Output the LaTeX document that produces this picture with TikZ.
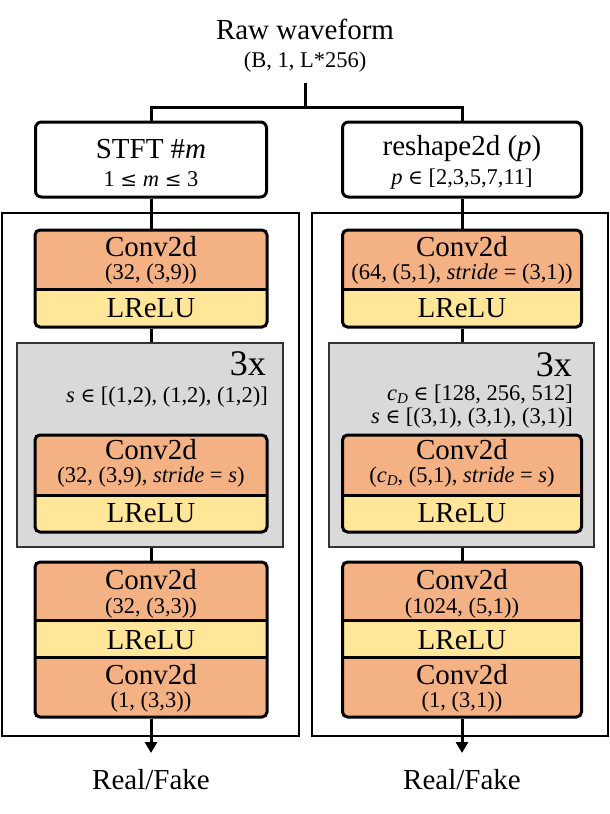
\documentclass[tikz,border=0pt]{standalone}
\usepackage{fontspec}
\setmainfont{Liberation Serif}
\newfontfamily\symf{DejaVu Serif}
\usetikzlibrary{arrows.meta}
\definecolor{convc}{HTML}{F4B183}
\definecolor{reluc}{HTML}{FFE699}
\definecolor{grayc}{HTML}{D9D9D9}
\newcommand{\bigf}{\fontsize{29}{33}\selectfont}
\newcommand{\subf}{\fontsize{22.5}{26}\selectfont}
\newcommand{\threef}{\fontsize{36}{40}\selectfont}
\newcommand{\vle}{{\symf\fontsize{20}{24}\selectfont ≤}}
\newcommand{\vin}{{\symf\fontsize{20}{24}\selectfont ∈}}
\newcommand{\cD}{\textit{c}\raisebox{-3.5pt}{\fontsize{15}{16}\selectfont\textit{D}}}
\tikzset{
  conn/.style={line width=3pt},
  topbox/.style={draw, line width=3pt, rounded corners=6pt, fill=white, inner sep=0pt},
  container/.style={draw, line width=1.5pt, fill=white, inner sep=0pt},
  repbox/.style={draw=black!80, line width=1.3pt, fill=grayc, inner sep=0pt},
  lbl/.style={inner sep=0pt, font=\bigf},
  sublbl/.style={inner sep=0pt, font=\subf},
  threelbl/.style={inner sep=0pt, font=\threef},
  pairframe/.style={draw, line width=3pt, rounded corners=5pt, fill=convc, inner sep=0pt,
    path picture={
      \fill[reluc, sharp corners] (path picture bounding box.south west) rectangle ([yshift=#1]path picture bounding box.south east);
      \draw[line width=3pt, sharp corners] ([yshift=#1]path picture bounding box.south west) -- ([yshift=#1]path picture bounding box.south east);
    }},
  tripleframe/.style={draw, line width=3pt, rounded corners=5pt, fill=convc, inner sep=0pt,
    path picture={
      \fill[reluc, sharp corners] ([yshift=60pt]path picture bounding box.south west) rectangle ([yshift=97pt]path picture bounding box.south east);
      \draw[line width=3pt, sharp corners] ([yshift=60pt]path picture bounding box.south west) -- ([yshift=60pt]path picture bounding box.south east);
      \draw[line width=3pt, sharp corners] ([yshift=97pt]path picture bounding box.south west) -- ([yshift=97pt]path picture bounding box.south east);
    }},
  tip/.style={-{Triangle[length=11pt,width=12pt]}}
}
\begin{document}
\begin{tikzpicture}[x=1pt,y=-1pt]
\useasboundingbox[fill=white] (0,0) rectangle (610,814);
% containers
\node[container, minimum width=297pt, minimum height=523pt] (lcont) at (150.5,474.5) {};
\node[container, minimum width=296pt, minimum height=523pt] (rcont) at (460,474.5) {};
% top boxes
\node[topbox, minimum width=231pt, minimum height=75pt] (stft) at (151,159.5) {};
\node[topbox, minimum width=239pt, minimum height=75pt] (rsh) at (462,159.5) {};
% left column
\node[pairframe=38pt, minimum width=232pt, minimum height=97pt] (lf1) at (151,278.5) {};
\node[repbox, minimum width=266pt, minimum height=204pt] (lrep) at (150,445) {};
\node[pairframe=37pt, minimum width=232pt, minimum height=97pt] (lf2) at (151,483.5) {};
\node[tripleframe, minimum width=232pt, minimum height=155pt] (lf3) at (151,639.5) {};
% right column
\node[pairframe=38pt, minimum width=239pt, minimum height=97pt] (rf1) at (462,278.5) {};
\node[repbox, minimum width=265pt, minimum height=204pt] (rrep) at (461.5,445) {};
\node[pairframe=37pt, minimum width=239pt, minimum height=97pt] (rf2) at (462,483.5) {};
\node[tripleframe, minimum width=239pt, minimum height=155pt] (rf3) at (462,639.5) {};
% connectors
\coordinate (rawend) at (305,83);
\coordinate (split) at (305,107);
\coordinate (lend) at (151,753);
\coordinate (rend) at (462,753);
\draw[conn] (rawend) -- (split);
\draw[conn] (stft.north) -- (stft.north |- split) -- (rsh.north |- split) -- (rsh.north);
\draw[conn] (stft.south) -- (lf1.north);
\draw[conn] (lf1.south) -- (lf1.south |- lrep.north);
\draw[conn] (lf1.south |- lrep.south) -- (lf3.north);
\draw[conn, tip] (lf3.south) -- (lend);
\draw[conn] (rsh.south) -- (rf1.north);
\draw[conn] (rf1.south) -- (rf1.south |- rrep.north);
\draw[conn] (rf1.south |- rrep.south) -- (rf3.north);
\draw[conn, tip] (rf3.south) -- (rend);
% top texts
\node[lbl] (rawT) at (305,29) {Raw waveform};
\node[sublbl] (rawS) at (305,62) {(B, 1, L*256)};
\node[lbl] (stftT) at (151,149) {STFT \#\textit{m}};
\node[sublbl] (stftS) at (151,179) {1 \vle{} \textit{m} \vle{} 3};
\node[lbl] (rshT) at (462,149) {reshape2d (\textit{p})};
\node[sublbl] (rshS) at (462,179) {\textit{p} \vin{} [2,3,5,7,11]};
% left texts
\node[lbl] (lc1) at (151,247) {Conv2d};
\node[sublbl] (lc1s) at (151,274) {(32, (3,9))};
\node[lbl] (lr1) at (151,308) {LReLU};
\node[threelbl, anchor=east] (l3x) at (266,364) {3x};
\node[sublbl, anchor=east] (ls) at (268,397) {\textit{s} \vin{} [(1,2), (1,2), (1,2)]};
\node[lbl] (lc2) at (151,450) {Conv2d};
\node[sublbl] (lc2s) at (151,477) {(32, (3,9), \textit{stride} = \textit{s})};
\node[lbl] (lr2) at (151,513) {LReLU};
\node[lbl] (lc3) at (151,580) {Conv2d};
\node[sublbl] (lc3s) at (151,608) {(32, (3,3))};
\node[lbl] (lr3) at (151,640) {LReLU};
\node[lbl] (lc4) at (151,675) {Conv2d};
\node[sublbl] (lc4s) at (151,702) {(1, (3,3))};
\node[lbl] (lout) at (151,780) {Real/Fake};
% right texts
\node[lbl] (rc1) at (462,247) {Conv2d};
\node[sublbl] (rc1s) at (462,274) {(64, (5,1), \textit{stride} = (3,1))};
\node[lbl] (rr1) at (462,308) {LReLU};
\node[threelbl, anchor=east] (r3x) at (572,365) {3x};
\node[sublbl, anchor=east] (rcd) at (573,394) {\cD{} \vin{} [128, 256, 512]};
\node[sublbl, anchor=east] (rs) at (573,418) {\textit{s} \vin{} [(3,1), (3,1), (3,1)]};
\node[lbl] (rc2) at (462,450) {Conv2d};
\node[sublbl] (rc2s) at (462,477) {(\cD, (5,1), \textit{stride} = \textit{s})};
\node[lbl] (rr2) at (462,513) {LReLU};
\node[lbl] (rc3) at (462,580) {Conv2d};
\node[sublbl] (rc3s) at (462,608) {(1024, (5,1))};
\node[lbl] (rr3) at (462,640) {LReLU};
\node[lbl] (rc4) at (462,675) {Conv2d};
\node[sublbl] (rc4s) at (462,702) {(1, (3,1))};
\node[lbl] (rout) at (462,780) {Real/Fake};
\end{tikzpicture}
\end{document}
